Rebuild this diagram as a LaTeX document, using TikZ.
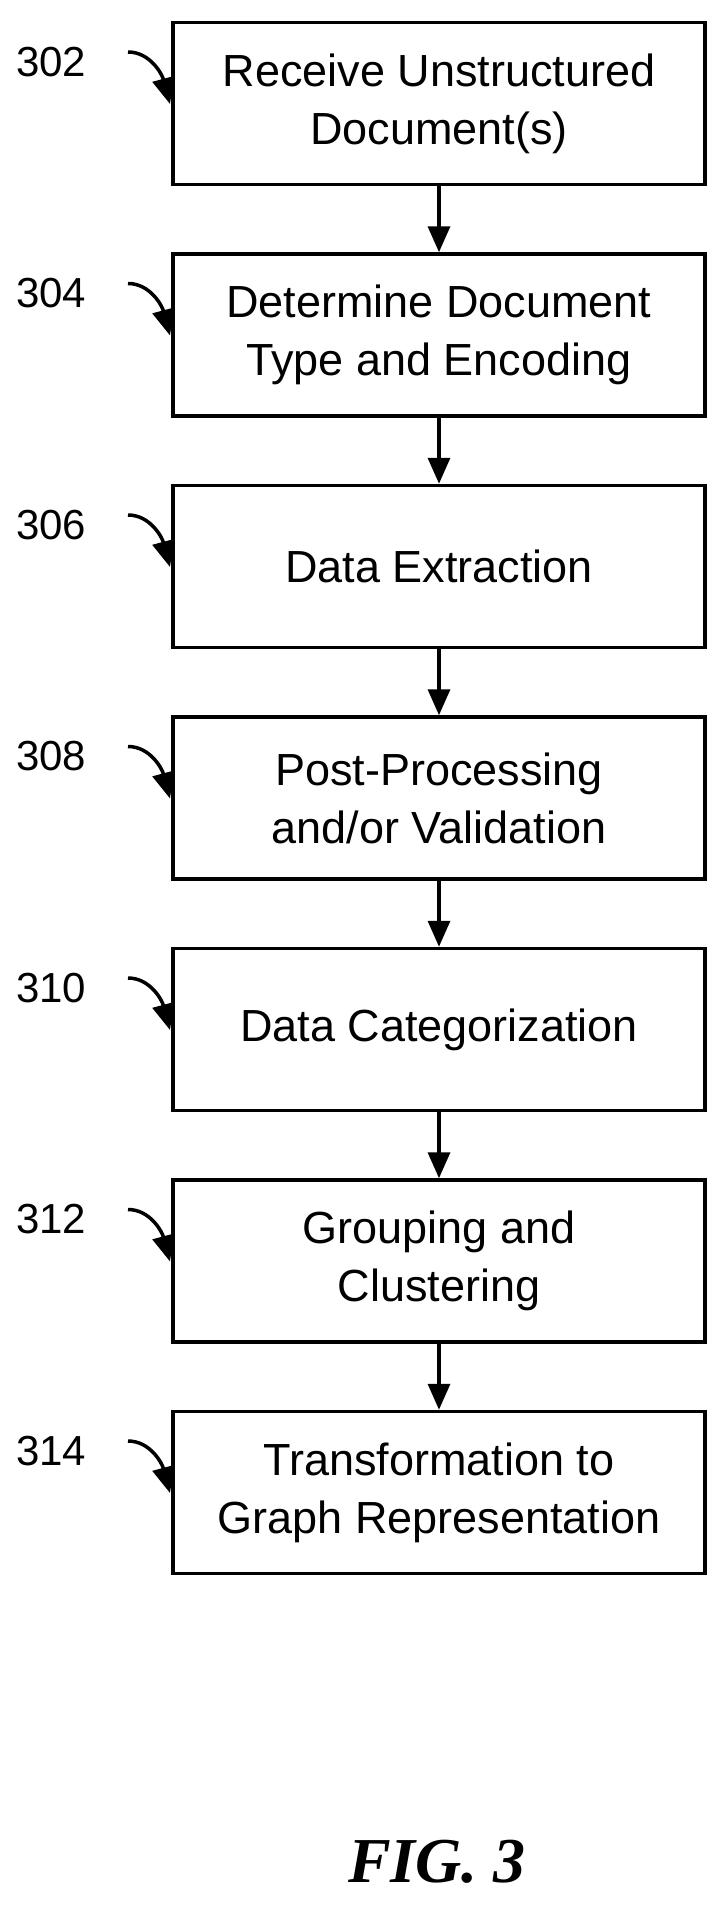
\documentclass[tikz,border=0pt]{standalone}
\usepackage{fontspec}
\setmainfont{Liberation Sans}
\newfontfamily\figfont{Liberation Serif}
\usetikzlibrary{arrows.meta}
\begin{document}
\begin{tikzpicture}[x=1pt,y=-1pt,
  box/.style={draw,line width=3.5pt,minimum width=532pt,minimum height=162pt,align=center,font=\fontsize{45}{58}\selectfont,inner sep=0pt},
  lab/.style={font=\fontsize{42}{50}\selectfont,anchor=west,inner sep=0pt},
  flow/.style={line width=3.5pt,-{Triangle[length=26pt,width=22pt]}},
  hook/.style={line width=3.5pt,-{Triangle[length=26pt,width=22pt]}}]
\useasboundingbox (0,0) rectangle (715,1916);
\foreach \i/\n/\t [count=\k from 0] in {1/302/{Receive Unstructured\\Document(s)},2/304/{Determine Document\\Type and Encoding},3/306/{Data Extraction},4/308/{Post-Processing\\and/or Validation},5/310/{Data Categorization},6/312/{Grouping and\\Clustering},7/314/{Transformation to\\Graph Representation}}{
  \node[box] (b\i) at (439,{103.5+231.5*\k}) {\t};
  \node[lab] (l\i) at (16,{62+231.5*\k}) {\n};
  \coordinate (h\i) at (128,{52+231.5*\k});
  \coordinate (t\i) at (170,{104+231.5*\k});
  \draw[hook] (h\i) .. controls ++(22,0) and ++(-8,-30) .. (t\i);
}
\foreach \a/\b in {1/2,2/3,3/4,4/5,5/6,6/7}{\draw[flow] (b\a.south) -- (b\b.north);}
\node[font=\figfont\bfseries\itshape\fontsize{64}{76}\selectfont] (fig) at (437,1862) {FIG. 3};
\end{tikzpicture}
\end{document}
